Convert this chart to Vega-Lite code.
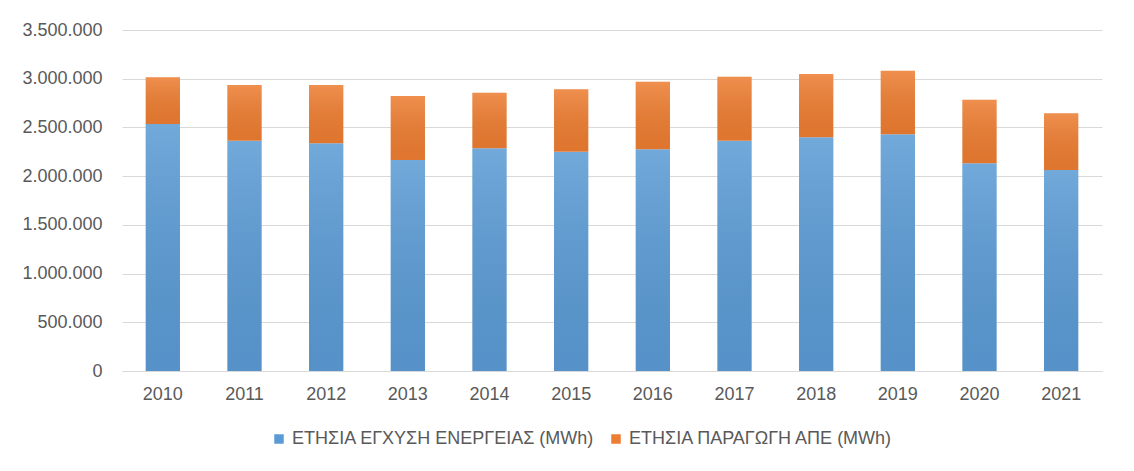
{
  "$schema": "https://vega.github.io/schema/vega-lite/v6.json",
  "width": 980,
  "height": 341,
  "autosize": {"type": "none"},
  "padding": {"left": 122, "top": 30, "right": 32, "bottom": 100},
  "background": "white",
  "config": {
    "locale": {"number": {"decimal": ",", "thousands": ".", "grouping": [3], "currency": ["", " €"]}},
    "view": {"stroke": null},
    "font": "Liberation Sans",
    "axis": {"labelFont": "Liberation Sans", "labelFontSize": 18, "labelColor": "#595959", "titleColor": "#595959"},
    "legend": {"labelFont": "Liberation Sans", "labelFontSize": 18, "labelColor": "#595959", "labelLimit": 0}
  },
  "data": {
    "values": [
      {"year": "2010", "series": "ΕΤΗΣΙΑ ΕΓΧΥΣΗ ΕΝΕΡΓΕΙΑΣ (MWh)", "value": 2535000},
      {"year": "2010", "series": "ΕΤΗΣΙΑ ΠΑΡΑΓΩΓΗ ΑΠΕ (MWh)", "value": 479000},
      {"year": "2011", "series": "ΕΤΗΣΙΑ ΕΓΧΥΣΗ ΕΝΕΡΓΕΙΑΣ (MWh)", "value": 2364000},
      {"year": "2011", "series": "ΕΤΗΣΙΑ ΠΑΡΑΓΩΓΗ ΑΠΕ (MWh)", "value": 571000},
      {"year": "2012", "series": "ΕΤΗΣΙΑ ΕΓΧΥΣΗ ΕΝΕΡΓΕΙΑΣ (MWh)", "value": 2337000},
      {"year": "2012", "series": "ΕΤΗΣΙΑ ΠΑΡΑΓΩΓΗ ΑΠΕ (MWh)", "value": 598000},
      {"year": "2013", "series": "ΕΤΗΣΙΑ ΕΓΧΥΣΗ ΕΝΕΡΓΕΙΑΣ (MWh)", "value": 2166000},
      {"year": "2013", "series": "ΕΤΗΣΙΑ ΠΑΡΑΓΩΓΗ ΑΠΕ (MWh)", "value": 656000},
      {"year": "2014", "series": "ΕΤΗΣΙΑ ΕΓΧΥΣΗ ΕΝΕΡΓΕΙΑΣ (MWh)", "value": 2286000},
      {"year": "2014", "series": "ΕΤΗΣΙΑ ΠΑΡΑΓΩΓΗ ΑΠΕ (MWh)", "value": 570000},
      {"year": "2015", "series": "ΕΤΗΣΙΑ ΕΓΧΥΣΗ ΕΝΕΡΓΕΙΑΣ (MWh)", "value": 2251000},
      {"year": "2015", "series": "ΕΤΗΣΙΑ ΠΑΡΑΓΩΓΗ ΑΠΕ (MWh)", "value": 640000},
      {"year": "2016", "series": "ΕΤΗΣΙΑ ΕΓΧΥΣΗ ΕΝΕΡΓΕΙΑΣ (MWh)", "value": 2275000},
      {"year": "2016", "series": "ΕΤΗΣΙΑ ΠΑΡΑΓΩΓΗ ΑΠΕ (MWh)", "value": 694000},
      {"year": "2017", "series": "ΕΤΗΣΙΑ ΕΓΧΥΣΗ ΕΝΕΡΓΕΙΑΣ (MWh)", "value": 2364000},
      {"year": "2017", "series": "ΕΤΗΣΙΑ ΠΑΡΑΓΩΓΗ ΑΠΕ (MWh)", "value": 657000},
      {"year": "2018", "series": "ΕΤΗΣΙΑ ΕΓΧΥΣΗ ΕΝΕΡΓΕΙΑΣ (MWh)", "value": 2398000},
      {"year": "2018", "series": "ΕΤΗΣΙΑ ΠΑΡΑΓΩΓΗ ΑΠΕ (MWh)", "value": 650000},
      {"year": "2019", "series": "ΕΤΗΣΙΑ ΕΓΧΥΣΗ ΕΝΕΡΓΕΙΑΣ (MWh)", "value": 2429000},
      {"year": "2019", "series": "ΕΤΗΣΙΑ ΠΑΡΑΓΩΓΗ ΑΠΕ (MWh)", "value": 653000},
      {"year": "2020", "series": "ΕΤΗΣΙΑ ΕΓΧΥΣΗ ΕΝΕΡΓΕΙΑΣ (MWh)", "value": 2132000},
      {"year": "2020", "series": "ΕΤΗΣΙΑ ΠΑΡΑΓΩΓΗ ΑΠΕ (MWh)", "value": 653000},
      {"year": "2021", "series": "ΕΤΗΣΙΑ ΕΓΧΥΣΗ ΕΝΕΡΓΕΙΑΣ (MWh)", "value": 2063000},
      {"year": "2021", "series": "ΕΤΗΣΙΑ ΠΑΡΑΓΩΓΗ ΑΠΕ (MWh)", "value": 582000}
    ]
  },
  "encoding": {
    "x": {
      "field": "year",
      "type": "ordinal",
      "scale": {"paddingInner": 0.58, "paddingOuter": 0.29},
      "axis": {"title": null, "labelAngle": 0, "ticks": false, "domain": true, "domainColor": "#D9D9D9", "domainWidth": 1, "labelPadding": 14}
    },
    "y": {
      "field": "value",
      "type": "quantitative",
      "stack": "zero",
      "scale": {"domain": [0, 3500000], "nice": false},
      "axis": {"title": null, "values": [0, 500000, 1000000, 1500000, 2000000, 2500000, 3000000, 3500000], "format": ",d", "ticks": false, "domain": false, "grid": true, "gridColor": "#D9D9D9", "gridWidth": 1, "labelPadding": 20}
    },
    "order": {"field": "series", "type": "nominal", "sort": "ascending"}
  },
  "layer": [
    {
      "mark": {"type": "bar"},
      "encoding": {
        "color": {
          "field": "series",
          "type": "nominal",
          "scale": {"domain": ["ΕΤΗΣΙΑ ΕΓΧΥΣΗ ΕΝΕΡΓΕΙΑΣ (MWh)", "ΕΤΗΣΙΑ ΠΑΡΑΓΩΓΗ ΑΠΕ (MWh)"], "range": ["#5B9BD5", "#ED7D31"]},
          "legend": {"title": null, "orient": "none", "direction": "horizontal", "legendX": 148, "legendY": 400, "symbolType": "square", "symbolSize": 90, "symbolStrokeWidth": 0, "labelOffset": 4, "columnPadding": 12}
        }
      }
    },
    {
      "mark": {
        "type": "bar",
        "fill": {
          "gradient": "linear", "x1": 0, "y1": 0, "x2": 0, "y2": 1,
          "stops": [
            {"offset": 0, "color": "rgba(255,255,255,0.14)"},
            {"offset": 1, "color": "rgba(0,0,0,0.06)"}
          ]
        }
      },
      "encoding": {
        "detail": {"field": "series", "type": "nominal"}
      }
    }
  ]
}
